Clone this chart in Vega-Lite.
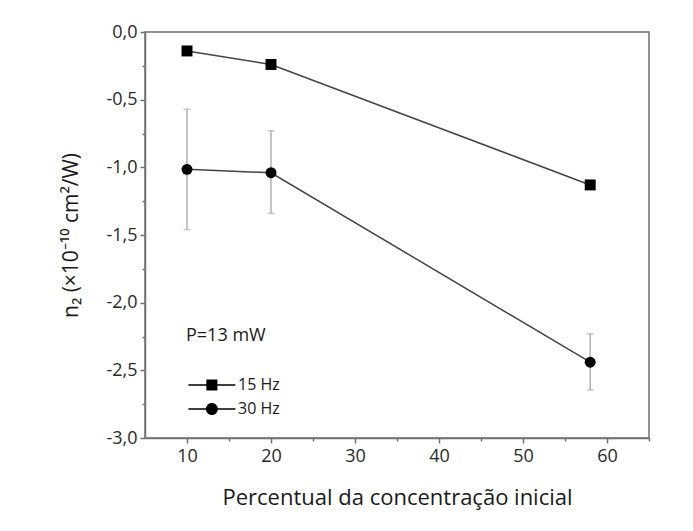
{
  "$schema": "https://vega.github.io/schema/vega-lite/v6.json",
  "width": 504,
  "height": 406,
  "autosize": {"type": "none"},
  "padding": {"left": 145, "top": 32, "right": 44, "bottom": 93},
  "background": "white",
  "config": {
    "font": "Open Sans",
    "view": {"stroke": "#707070", "strokeWidth": 1.5},
    "axis": {
      "domainColor": "#707070", "domainWidth": 1.5,
      "tickColor": "#707070", "tickWidth": 1.5,
      "labelColor": "#2a2a2a", "titleColor": "#1a1a1a",
      "labelFont": "Open Sans", "titleFont": "Open Sans",
      "grid": false, "titleFontWeight": "normal"
    }
  },
  "data": {
    "values": [
      {"conc": 10, "series": "15 Hz", "n2": -0.14},
      {"conc": 20, "series": "15 Hz", "n2": -0.24},
      {"conc": 58, "series": "15 Hz", "n2": -1.13},
      {"conc": 10, "series": "30 Hz", "n2": -1.015, "lo": -1.46, "hi": -0.57},
      {"conc": 20, "series": "30 Hz", "n2": -1.04, "lo": -1.34, "hi": -0.73},
      {"conc": 58, "series": "30 Hz", "n2": -2.44, "lo": -2.645, "hi": -2.23}
    ]
  },
  "layer": [
    {
      "transform": [{"filter": "isValid(datum.lo)"}],
      "mark": {"type": "rule", "color": "#b0b0b0", "strokeWidth": 1.5},
      "encoding": {
        "x": {"field": "conc", "type": "quantitative", "scale": {"domain": [5, 65], "nice": false, "zero": false},
              "axis": {"orient": "bottom", "values": [15, 25, 35, 45, 55, 65], "tickSize": 3, "labels": false, "domain": false, "title": null}},
        "y": {"field": "lo", "type": "quantitative", "scale": {"domain": [-3, 0], "nice": false, "zero": false},
              "axis": {"orient": "left", "values": [-0.25, -0.75, -1.25, -1.75, -2.25, -2.75], "tickSize": 3, "labels": false, "domain": false, "title": null}},
        "y2": {"field": "hi"}
      }
    },
    {
      "transform": [{"filter": "isValid(datum.lo)"}],
      "mark": {"type": "tick", "orient": "horizontal", "color": "#b0b0b0", "size": 7, "thickness": 1.5},
      "encoding": {
        "x": {"field": "conc", "type": "quantitative", "axis": null},
        "y": {"field": "lo", "type": "quantitative", "axis": null}
      }
    },
    {
      "transform": [{"filter": "isValid(datum.hi)"}],
      "mark": {"type": "tick", "orient": "horizontal", "color": "#b0b0b0", "size": 7, "thickness": 1.5},
      "encoding": {
        "x": {"field": "conc", "type": "quantitative", "axis": null},
        "y": {"field": "hi", "type": "quantitative", "axis": null}
      }
    },
    {
      "mark": {"type": "line", "color": "#444444", "strokeWidth": 1.5},
      "encoding": {
        "x": {"field": "conc", "type": "quantitative", "axis": null},
        "y": {"field": "n2", "type": "quantitative", "axis": null},
        "detail": {"field": "series"}
      }
    },
    {
      "transform": [{"filter": "datum.series == '15 Hz'"}],
      "mark": {"type": "point", "filled": true, "color": "black", "opacity": 1, "size": 120, "shape": "square"},
      "encoding": {
        "x": {"field": "conc", "type": "quantitative", "axis": null},
        "y": {"field": "n2", "type": "quantitative", "axis": null}
      }
    },
    {
      "transform": [{"filter": "datum.series == '30 Hz'"}],
      "mark": {"type": "point", "filled": true, "color": "black", "opacity": 1, "size": 120, "shape": "circle"},
      "encoding": {
        "x": {"field": "conc", "type": "quantitative", "axis": null},
        "y": {"field": "n2", "type": "quantitative", "axis": null}
      }
    },
    {
      "mark": {"type": "point", "filled": true, "color": "black", "opacity": 0, "size": 150},
      "encoding": {
        "x": {"field": "conc", "type": "quantitative",
              "axis": {"orient": "bottom", "values": [10, 20, 30, 40, 50, 60], "format": "d", "tickSize": 5, "labelPadding": 4, "labelFontSize": 18,
                       "title": "Percentual da concentração inicial", "titleFontSize": 22, "titlePadding": 22}},
        "y": {"field": "n2", "type": "quantitative",
              "axis": {"orient": "left", "values": [0, -0.5, -1, -1.5, -2, -2.5, -3], "tickSize": 5, "labelPadding": 3, "labelFontSize": 18,
                       "labelExpr": "replace(replace(format(datum.value, '.1f'), '.', ','), '\u2212', '-')",
                       "title": "n₂ (×10⁻¹⁰ cm²/W)", "titleFontSize": 21, "titlePadding": 24}},
        "shape": {"field": "series", "type": "nominal",
                  "scale": {"domain": ["15 Hz", "30 Hz"],
                            "range": ["M-0.92,-0.12H6.76V0.12H-0.92Z M2.02,-0.9H3.82V0.9H2.02Z",
                                      "M-0.92,-0.12H6.76V0.12H-0.92Z M1.94,0A0.98,0.98 0 1,1 3.9,0A0.98,0.98 0 1,1 1.94,0Z"]},
                  "legend": {"orient": "none", "legendX": 41, "legendY": 295, "title": "P=13 mW", "titleFontSize": 18, "titleFontWeight": "normal",
                             "titleColor": "#1a1a1a", "titlePadding": 32, "labelFontSize": 16, "labelColor": "#1a1a1a", "labelOffset": 36, "rowPadding": 8,
                             "padding": 0, "symbolSize": 150, "symbolOpacity": 1, "symbolFillColor": "black", "symbolStrokeWidth": 0}}
      }
    }
  ],
  "resolve": {"axis": {"x": "independent", "y": "independent"}}
}
